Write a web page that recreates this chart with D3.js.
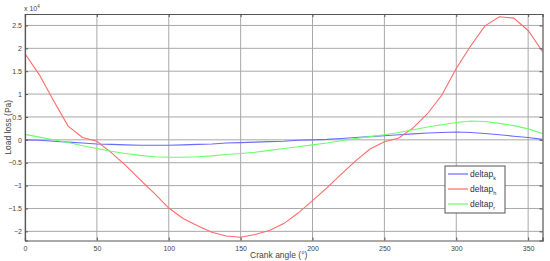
<!DOCTYPE html>
<html>
<head>
<meta charset="utf-8">
<script src="https://cdn.jsdelivr.net/npm/d3@7"></script>
<style>
  body { margin: 0; background: #fff; }
  svg { font-family: "Liberation Sans", Arial, sans-serif; }
</style>
</head>
<body>
<div id="chart"></div>
<script>
// données (x 10^4 Pa), pas de 10°
const angles = d3.range(0, 361, 10);
const deltapK = [0.0, -0.01, -0.03, -0.05, -0.07, -0.09, -0.1, -0.11, -0.12, -0.12, -0.12, -0.11, -0.1, -0.09, -0.07, -0.06, -0.05, -0.04, -0.03, -0.01, 0.0, 0.01, 0.03, 0.05, 0.07, 0.09, 0.11, 0.13, 0.15, 0.16, 0.17, 0.16, 0.14, 0.11, 0.08, 0.05, 0.01];
const deltapH = [1.88, 1.42, 0.85, 0.30, 0.05, -0.03, -0.28, -0.56, -0.87, -1.17, -1.49, -1.72, -1.88, -2.02, -2.1, -2.13, -2.07, -1.98, -1.83, -1.6, -1.33, -1.05, -0.75, -0.46, -0.2, -0.04, 0.04, 0.26, 0.57, 0.98, 1.56, 2.05, 2.49, 2.69, 2.66, 2.39, 1.93];
const deltapR = [0.12, 0.06, 0.0, -0.06, -0.13, -0.19, -0.25, -0.3, -0.34, -0.37, -0.38, -0.38, -0.37, -0.35, -0.32, -0.3, -0.27, -0.23, -0.19, -0.15, -0.11, -0.07, -0.02, 0.03, 0.07, 0.11, 0.16, 0.22, 0.28, 0.33, 0.38, 0.41, 0.4, 0.36, 0.31, 0.24, 0.14];
const xTicks = [0, 50, 100, 150, 200, 250, 300, 350];
const yTicks = [-2, -1.5, -1, -0.5, 0, 0.5, 1, 1.5, 2, 2.5];

const series = [
  { nom: "deltap", sub: "k", valeurs: deltapK, couleur: "#6a6aff" },
  { nom: "deltap", sub: "h", valeurs: deltapH, couleur: "#ff6a6a" },
  { nom: "deltap", sub: "r", valeurs: deltapR, couleur: "#6aff6a" }
];

const width = 550, height = 261;
const margin = { top: 14, right: 7.5, bottom: 20.5, left: 25 };

const svg = d3.select("#chart").append("svg")
  .attr("width", width).attr("height", height);

const x = d3.scaleLinear().domain([0, 360]).range([margin.left, width - margin.right]);
const y = d3.scaleLinear().domain([-2.2, 2.75]).range([height - margin.bottom, margin.top]);

// grille
const grid = svg.append("g");
grid.selectAll(".gx").data(xTicks).enter().append("line")
  .attr("x1", d => x(d)).attr("x2", d => x(d))
  .attr("y1", y.range()[1]).attr("y2", y.range()[0])
  .attr("stroke", "#a8a8a8").attr("stroke-width", 1);
grid.selectAll(".gy").data(yTicks).enter().append("line")
  .attr("x1", x.range()[0]).attr("x2", x.range()[1])
  .attr("y1", d => y(d)).attr("y2", d => y(d))
  .attr("stroke", "#a8a8a8").attr("stroke-width", 1);

// courbes
const line = d3.line()
  .x((d, i) => x(angles[i]))
  .y(d => y(d));

svg.append("g").selectAll("path")
  .data(series).enter().append("path")
  .attr("d", d => line(d.valeurs))
  .attr("fill", "none")
  .attr("stroke", d => d.couleur)
  .attr("stroke-width", 1.1);

// axes (bas / gauche avec étiquettes, haut / droite sans)
const axeX = svg.append("g")
  .attr("transform", `translate(0,${y.range()[0]})`)
  .call(d3.axisBottom(x).tickValues(xTicks).tickSize(-3).tickPadding(6));
const axeY = svg.append("g")
  .attr("transform", `translate(${x.range()[0]},0)`)
  .call(d3.axisLeft(y).tickValues(yTicks).tickSize(-3).tickPadding(3)
    .tickFormat(d => d3.format("")(d)));
svg.append("g")
  .attr("transform", `translate(0,${y.range()[1]})`)
  .call(d3.axisTop(x).tickValues(xTicks).tickSize(-3).tickFormat(""));
svg.append("g")
  .attr("transform", `translate(${x.range()[1]},0)`)
  .call(d3.axisRight(y).tickValues(yTicks).tickSize(-3).tickFormat(""));

svg.selectAll(".domain").attr("stroke", "#555").attr("stroke-width", 1.2);
svg.selectAll(".tick line").attr("stroke", "#555");
svg.selectAll(".tick text").attr("font-size", 7).attr("fill", "#444")
  .attr("font-family", "Liberation Sans, Arial, sans-serif");

// multiplicateur
const mult = svg.append("text").attr("x", 24).attr("y", 11)
  .attr("font-size", 7).attr("fill", "#444");
mult.append("tspan").text("x 10");
mult.append("tspan").attr("dy", -3).attr("font-size", 4.5).text("4");

// titres des axes
svg.append("text")
  .attr("x", (x.range()[0] + x.range()[1]) / 2 - 5)
  .attr("y", 258)
  .attr("text-anchor", "middle")
  .attr("font-size", 8.5).attr("fill", "#444")
  .text("Crank angle (°)");

svg.append("text")
  .attr("transform", `translate(11,${(y.range()[0] + y.range()[1]) / 2}) rotate(-90)`)
  .attr("text-anchor", "middle")
  .attr("font-size", 8.5).attr("fill", "#444")
  .text("Load loss (Pa)");

// légende
const leg = svg.append("g").attr("transform", "translate(445,166)");
leg.append("rect").attr("width", 60).attr("height", 47)
  .attr("fill", "#fff").attr("stroke", "#555").attr("stroke-width", 1);
const items = leg.selectAll(".item").data(series).enter().append("g")
  .attr("transform", (d, i) => `translate(0,${8 + i * 15})`);
items.append("line").attr("x1", 3).attr("x2", 23).attr("y1", 0).attr("y2", 0)
  .attr("stroke", d => d.couleur).attr("stroke-width", 1.2);
const lib = items.append("text").attr("x", 25).attr("y", 3)
  .attr("font-size", 8.5).attr("fill", "#333");
lib.append("tspan").text(d => d.nom);
lib.append("tspan").attr("dy", 2.5).attr("font-size", 5.5).text(d => d.sub);
</script>
</body>
</html>
